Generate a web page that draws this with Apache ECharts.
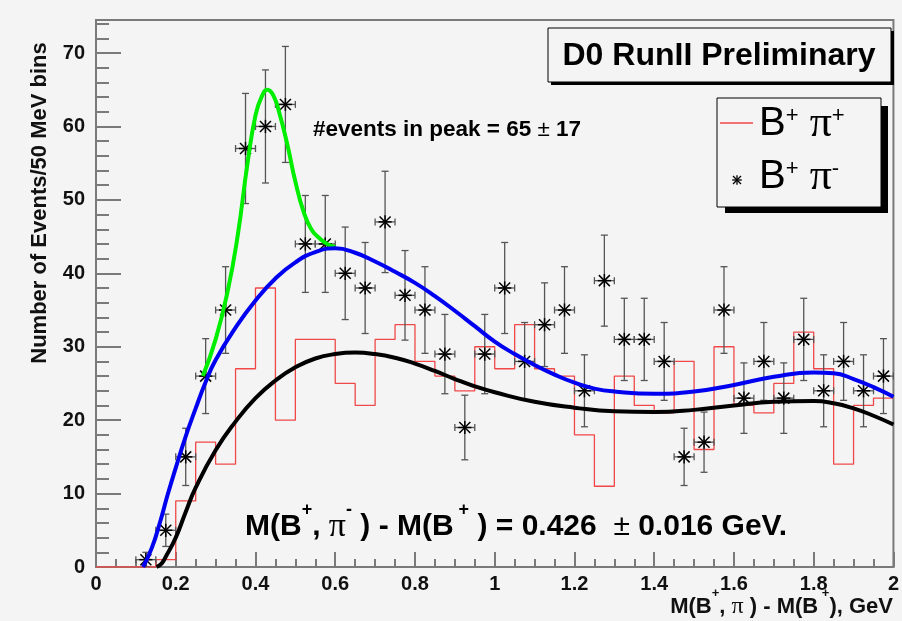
<!DOCTYPE html>
<html><head><meta charset="utf-8">
<script src="https://cdn.jsdelivr.net/npm/echarts@6/dist/echarts.min.js"></script>
<style>html,body{margin:0;padding:0;background:#f4f4f4}#c{width:902px;height:621px}</style>
</head><body><div id="c"></div>
<script>
// ---- data ----
const binWidth = 0.05;           // 50 MeV bins, x from 0 to 2 GeV
// B+ pi+ (red histogram), 40 bins
const histBplusPiplus = [0,0,0,1,9,17,14,27,38,20,31,31,25,22,31,33,28,26,24,30,
                         27,33,27,26,18,11,26,22,21,28,16,30,22,21,25,32,27,14,22,23];
// B+ pi- (black stars), 40 bins
const countsBplusPiminus = [0,0,1,5,15,26,35,57,60,63,44,44,40,38,47,37,35,29,19,29,
                            38,28,33,35,24,39,31,31,28,15,17,35,23,28,23,31,24,28,24,26];
// vertical error bar half lengths
const errBplusPiminus = [0,0,1,2.2,3.9,5.1,5.9,7.5,7.7,7.9,6.6,6.6,6.3,6.2,6.9,6.1,5.9,5.4,4.4,5.4,
                         6.2,5.3,5.7,5.9,4.9,6.2,5.6,5.6,5.3,3.9,4.1,5.9,4.8,5.3,4.8,5.6,4.9,5.3,4.9,5.1];
// fitted curves, points [x, y]
const curveBackground = [[0.152,0],[0.165,0.5],[0.175,1.4],[0.2,4.0],[0.225,7.5],[0.25,10.8],[0.3,15.9],
  [0.35,19.8],[0.4,23.0],[0.45,25.4],[0.5,27.2],[0.55,28.4],[0.6,29.0],[0.65,29.2],[0.7,29.0],[0.75,28.5],
  [0.8,27.7],[0.85,26.7],[0.9,25.6],[0.95,24.6],[1.0,23.8],[1.1,22.5],[1.2,21.7],[1.3,21.2],[1.4,21.1],
  [1.5,21.4],[1.6,22.0],[1.7,22.5],[1.8,22.6],[1.85,22.3],[1.9,21.6],[1.95,20.6],[2.0,19.4]];
const curveBlue = [[0.118,0],[0.14,2.6],[0.16,6.0],[0.18,9.9],[0.2,13.5],[0.225,17.8],[0.25,21.6],
  [0.275,25.2],[0.3,28.2],[0.35,32.6],[0.4,36.3],[0.45,39.3],[0.5,41.5],[0.55,42.9],[0.6,43.4],
  [0.65,42.8],[0.7,41.6],[0.75,40.2],[0.8,38.7],[0.85,36.9],[0.9,34.9],[0.95,32.8],[1.0,30.7],
  [1.05,29.0],[1.1,27.5],[1.15,26.2],[1.2,25.1],[1.25,24.3],[1.3,23.9],[1.4,23.6],[1.5,23.9],
  [1.6,24.8],[1.7,25.9],[1.8,26.5],[1.85,26.4],[1.9,25.6],[1.95,24.5],[2.0,23.2]];
const curveGreen = [[0.268,26],[0.3,31],[0.33,37.5],[0.355,45],[0.38,55],[0.4,61.5],[0.415,64],
  [0.43,65],[0.445,64.2],[0.46,61.8],[0.48,57.5],[0.5,52.5],[0.52,48.5],[0.54,46],[0.56,44.8],
  [0.58,44.0],[0.6,43.6]];

const xMin = 0, xMax = 2, yMin = 0, yMax = 74.5;

// ---- build series data ----
const histSteps = histBplusPiplus.map((v, i) => [i * binWidth, v]);
histSteps.push([xMax, histBplusPiplus[histBplusPiplus.length - 1]]);
const points = [];
countsBplusPiminus.forEach((v, i) => { if (v > 0) points.push([(i + 0.5) * binWidth, v, errBplusPiminus[i]]); });

const SANS = '"Liberation Sans", Arial, Helvetica, sans-serif';
const SERIF = '"Liberation Serif", "Times New Roman", serif';
const GRID = '#7a7a7a';
const RED = '#f04848';

function asterisk(cx, cy, s, st, z) {
  const L = (x1, y1, x2, y2) => ({ type: 'line', shape: { x1, y1, x2, y2 }, style: st, z: z });
  return [
    L(cx - s, cy - s, cx + s, cy + s),
    L(cx - s, cy + s, cx + s, cy - s),
    L(cx - s * 1.2, cy, cx + s * 1.2, cy),
    L(cx, cy - s * 1.2, cx, cy + s * 1.2)
  ];
}

function renderPoint(params, api) {
  const x = api.value(0), y = api.value(1), e = api.value(2);
  const c = api.coord([x, y]);
  const t = api.coord([x, y + e]);
  const b = api.coord([x, Math.max(0, y - e)]);
  const l = api.coord([x - binWidth / 2, y]);
  const r = api.coord([x + binWidth / 2, y]);
  const bs = { stroke: '#555', lineWidth: 1.3 };
  const ss = { stroke: '#000', lineWidth: 1.5 };
  const cap = 3.5;
  const L = (x1, y1, x2, y2, st) => ({ type: 'line', shape: { x1, y1, x2, y2 }, style: st });
  return { type: 'group', children: [
    L(c[0], t[1], c[0], b[1], bs),
    L(c[0] - cap, t[1], c[0] + cap, t[1], bs),
    L(c[0] - cap, b[1], c[0] + cap, b[1], bs),
    L(l[0], c[1], r[0], c[1], bs),
    L(l[0], c[1] - cap, l[0], c[1] + cap, bs),
    L(r[0], c[1] - cap, r[0], c[1] + cap, bs)
  ].concat(asterisk(c[0], c[1], 5.5, ss)) };
}

const chart = echarts.init(document.getElementById('c'), null, { renderer: 'canvas' });

const tickLabel = { color: '#111', fontFamily: SANS, fontWeight: 'bold', fontSize: 20 };
const legendRich = {
  b: { font: '40px ' + SANS, lineHeight: 38, fill: '#000' },
  s: { font: '22px ' + SANS, lineHeight: 20, verticalAlign: 'top', fill: '#000' },
  p: { font: '44px ' + SERIF, lineHeight: 38, fill: '#000' }
};

const option = {
  backgroundColor: '#f4f4f4',
  animation: false,
  grid: { left: 96, right: 6, top: 20, bottom: 54, show: true, borderColor: GRID, borderWidth: 2, backgroundColor: 'transparent' },
  xAxis: {
    type: 'value', min: xMin, max: xMax, interval: 0.2,
    axisLine: { lineStyle: { color: GRID, width: 2 } },
    axisTick: { inside: true, length: 15, lineStyle: { color: GRID, width: 2 } },
    minorTick: { show: true, splitNumber: 4, length: 8, lineStyle: { color: GRID, width: 2 } },
    splitLine: { show: false },
    axisLabel: Object.assign({ margin: 7 }, tickLabel)
  },
  yAxis: [{
    type: 'value', min: yMin, max: yMax, interval: 10,
    axisLine: { lineStyle: { color: GRID, width: 2 } },
    axisTick: { inside: true, length: 25, lineStyle: { color: GRID, width: 2 } },
    splitLine: { show: false },
    axisLabel: Object.assign({ margin: 11, showMaxLabel: false }, tickLabel)
  }, {
    type: 'value', min: yMin, max: yMax, interval: 2, position: 'left',
    axisLine: { show: false },
    axisTick: { inside: true, length: 13, lineStyle: { color: GRID, width: 2 } },
    splitLine: { show: false },
    axisLabel: { show: false }
  }],
  series: [
    { type: 'line', name: 'B+ pi+', data: histSteps, step: 'end', symbol: 'none',
      lineStyle: { color: RED, width: 1.3 }, z: 2 },
    { type: 'custom', name: 'B+ pi-', data: points, renderItem: renderPoint,
      encode: { x: 0, y: 1 }, clip: true, z: 3 },
    { type: 'line', data: curveBackground, smooth: 0.5, symbol: 'none',
      lineStyle: { color: '#000', width: 4 }, z: 4 },
    { type: 'line', data: curveGreen, smooth: 0.5, symbol: 'none',
      lineStyle: { color: '#00ee00', width: 4 }, z: 4 },
    { type: 'line', data: curveBlue, smooth: 0.5, symbol: 'none',
      lineStyle: { color: '#0000f0', width: 4 }, z: 5 }
  ],
  graphic: [
    // title box
    { type: 'rect', shape: { x: 551, y: 31, width: 343, height: 54 }, style: { fill: '#000' }, z: 100 },
    { type: 'rect', shape: { x: 548, y: 28, width: 343, height: 54 }, style: { fill: '#f4f4f4', stroke: '#000', lineWidth: 1 }, z: 101 },
    { type: 'text', x: 719, y: 56, z: 102,
      style: { text: 'D0 RunII Preliminary', font: 'bold 32px ' + SANS, fill: '#000', align: 'center', verticalAlign: 'middle' } },
    // legend box
    { type: 'rect', shape: { x: 725, y: 106, width: 163, height: 107 }, style: { fill: '#000' }, z: 100 },
    { type: 'rect', shape: { x: 717, y: 98, width: 164, height: 109 }, style: { fill: '#f4f4f4', stroke: '#000', lineWidth: 1 }, z: 101 },
    { type: 'line', shape: { x1: 720, y1: 123, x2: 753, y2: 123 }, style: { stroke: RED, lineWidth: 1.3 }, z: 102 },
    { type: 'text', x: 759, y: 124, z: 102,
      style: { text: '{b|B}{s|+}{b| }{p|π}{s|+}', align: 'left', verticalAlign: 'middle', rich: legendRich } },
    { type: 'group', x: 0, y: 0, z: 102,
      children: asterisk(737, 180, 4, { stroke: '#000', lineWidth: 1.3 }, 102) },
    { type: 'text', x: 759, y: 177, z: 102,
      style: { text: '{b|B}{s|+}{b| }{p|π}{s|-}', align: 'left', verticalAlign: 'middle', rich: legendRich } },
    // events in peak
    { type: 'text', x: 313, y: 130, z: 102,
      style: { text: '{t|#events in peak = 65 }{pm|±}{t| 17}', align: 'left', verticalAlign: 'middle',
        rich: { t: { font: 'bold 22.5px ' + SANS, fill: '#000' }, pm: { font: '22.5px ' + SANS, fill: '#000' } } } },
    // mass difference
    { type: 'text', x: 245, y: 527, z: 102,
      style: { text: '{t|M(B}{s|+}{t|, }{p|π}{s|-}{t| ) - M(B}{s| +}{t| ) = 0.426  }{pm|±}{t| 0.016 GeV.}',
        align: 'left', verticalAlign: 'middle',
        rich: { t: { font: 'bold 30px ' + SANS, lineHeight: 52, fill: '#000' },
                s: { font: 'bold 18px ' + SANS, lineHeight: 17, verticalAlign: 'top', fill: '#000' },
                p: { font: '34px ' + SERIF, lineHeight: 52, fill: '#000' },
                pm: { font: '30px ' + SANS, lineHeight: 52, fill: '#000' } } } },
    // x axis title
    { type: 'text', x: 893, y: 607, z: 102,
      style: { text: '{t|M(B}{s|+}{t|, }{p|π}{t| ) - M(B}{s| +}{t|), GeV}', align: 'right', verticalAlign: 'middle',
        rich: { t: { font: 'bold 22px ' + SANS, lineHeight: 40, fill: '#111' },
                s: { font: 'bold 13px ' + SANS, lineHeight: 12, verticalAlign: 'top', fill: '#111' },
                p: { font: '24px ' + SERIF, lineHeight: 40, fill: '#111' } } } },
    // y axis title
    { type: 'text', x: 40, y: 203, rotation: Math.PI / 2, z: 102,
      style: { text: 'Number of Events/50 MeV bins', font: 'bold 22px ' + SANS, fill: '#111', align: 'center', verticalAlign: 'middle' } }
  ]
};
chart.setOption(option);
</script></body></html>
